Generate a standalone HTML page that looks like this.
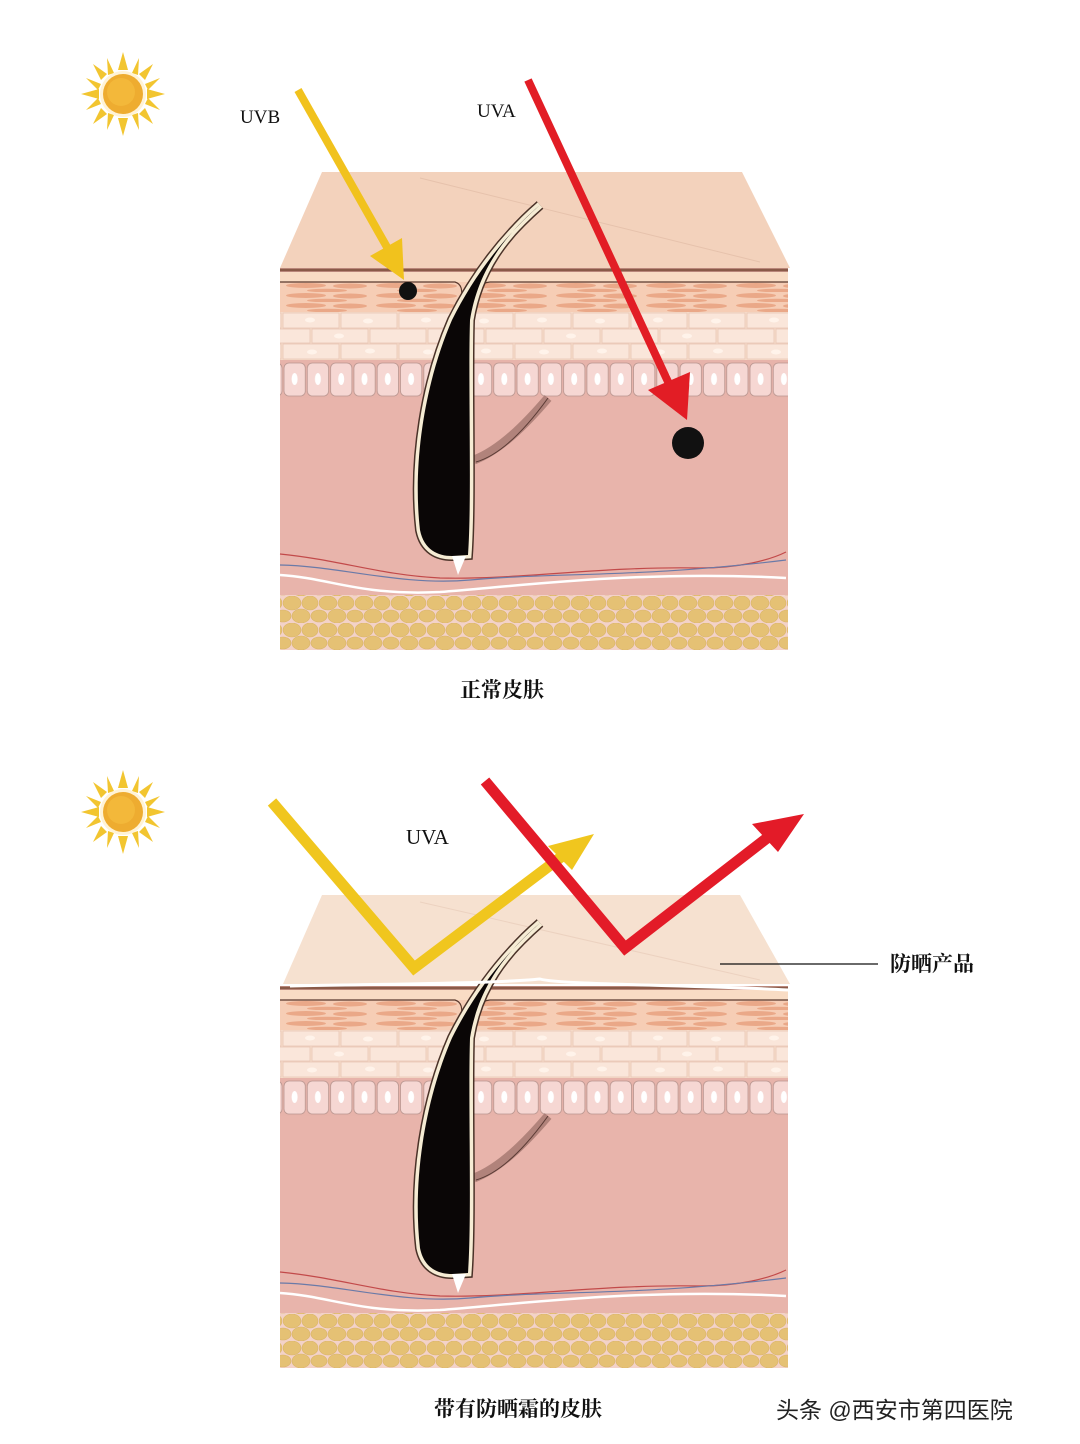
<!DOCTYPE html>
<html><head><meta charset="utf-8"><style>
html,body{margin:0;padding:0;background:#fff;}
svg{display:block;}
</style></head><body>
<svg width="1080" height="1444" viewBox="0 0 1080 1444" xmlns="http://www.w3.org/2000/svg">
<defs>
<pattern id="fat" x="283" y="596" width="36" height="27" patternUnits="userSpaceOnUse">
<rect width="36" height="27" fill="#f3d2c8"/>
<ellipse cx="9" cy="7" rx="9" ry="7" fill="#e5c174" stroke="#d9b468" stroke-width="0.6"/>
<ellipse cx="27" cy="7" rx="8" ry="7" fill="#e5c174" stroke="#d9b468" stroke-width="0.6"/>
<ellipse cx="18" cy="20" rx="9" ry="7" fill="#e5c174" stroke="#d9b468" stroke-width="0.6"/>
<ellipse cx="0" cy="20" rx="8" ry="6" fill="#e5c174" stroke="#d9b468" stroke-width="0.6"/>
<ellipse cx="36" cy="20" rx="8" ry="6" fill="#e5c174" stroke="#d9b468" stroke-width="0.6"/>
</pattern>
<pattern id="cells" x="282" y="312" width="116" height="48" patternUnits="userSpaceOnUse">
<rect width="116" height="48" fill="#f7ddcc"/>
<g fill="#fae6da" stroke="#e9c6b5" stroke-width="0.8">
<rect x="1" y="1" width="56" height="15"/><rect x="59" y="1" width="56" height="15"/>
<rect x="-28" y="17" width="56" height="14"/><rect x="30" y="17" width="56" height="14"/><rect x="88" y="17" width="56" height="14"/>
<rect x="1" y="32" width="56" height="15"/><rect x="59" y="32" width="56" height="15"/>
</g>
<g fill="#fff3ea"><ellipse cx="28" cy="8" rx="5" ry="2.5"/><ellipse cx="86" cy="9" rx="5" ry="2.5"/><ellipse cx="57" cy="24" rx="5" ry="2.5"/><ellipse cx="30" cy="40" rx="5" ry="2.5"/><ellipse cx="88" cy="39" rx="5" ry="2.5"/></g>
</pattern>
<pattern id="basal" x="283" y="360" width="23.3" height="40" patternUnits="userSpaceOnUse">
<rect width="23.3" height="40" fill="#e7b3aa"/>
<rect x="1" y="3" width="21.3" height="33" rx="5" fill="#f6d7d3" stroke="#b99690" stroke-width="0.8"/>
<ellipse cx="11.6" cy="19" rx="3" ry="6" fill="#fff"/>
</pattern>
<pattern id="stripes" x="282" y="282" width="90" height="10" patternUnits="userSpaceOnUse">
<rect width="90" height="10" fill="#f6cdb5"/>
<ellipse cx="24" cy="3.5" rx="20" ry="2.5" fill="#eaa888"/>
<ellipse cx="68" cy="4" rx="17" ry="2.5" fill="#eaa888"/>
<ellipse cx="45" cy="8.5" rx="20" ry="1.8" fill="#eaa888"/>
</pattern>
<path id="hairp" d="M540,205 C500,240 472,280 452,320 C426,380 412,460 420,530 C424,550 438,556 452,556 L468,555 C472,500 468,380 470,320 C478,270 505,235 540,205 Z"/>
<g id="skin">
<rect x="280" y="268" width="508" height="382" fill="#e8b4ab"/>
<rect x="280" y="272" width="508" height="10" fill="#f9dcc4"/>
<rect x="280" y="282" width="508" height="30" fill="url(#stripes)"/>
<rect x="280" y="312" width="508" height="48" fill="url(#cells)"/>
<rect x="280" y="360" width="508" height="38" fill="url(#basal)"/>
<rect x="280" y="595" width="508" height="55" fill="url(#fat)"/>
<line x1="280" y1="270" x2="788" y2="270" stroke="#8a5a48" stroke-width="3"/>
<path d="M280,282 L455,282 C462,284 462,290 462,300 M474,300 C476,290 478,283 490,282 L788,282" stroke="#5a3a2e" stroke-width="1.2" fill="none"/>
<path d="M280,554 C340,560 380,575 440,578 C520,580 600,566 700,568 C740,568 770,560 786,552" stroke="#c24a4a" fill="none" stroke-width="1.2"/>
<path d="M280,565 C340,566 400,586 470,580 C560,572 640,578 786,560" stroke="#6a7aa8" fill="none" stroke-width="1.2"/>
<path d="M280,575 C330,578 360,596 440,592 C520,586 640,570 786,578" stroke="#fff" fill="none" stroke-width="2.5"/>
<path d="M548,398 C525,425 500,450 474,460" stroke="#9a6e66" fill="none" stroke-width="9" opacity="0.7"/>
<path d="M548,398 C525,430 500,455 476,462" stroke="#5a3a34" fill="none" stroke-width="1"/>
<use href="#hairp" fill="none" stroke="#4a3228" stroke-width="10"/>
<use href="#hairp" fill="none" stroke="#f6ecd4" stroke-width="7"/>
<use href="#hairp" fill="#0a0606"/>
<path d="M452,556 L458,575 L466,556 Z" fill="#fff"/>
</g>
<g id="sun">
<g fill="#f2c530">
<polygon points="123,52 128,70 118,70"/><polygon points="123,136 128,118 118,118"/>
<polygon points="81,94 99,89 99,99"/><polygon points="165,94 147,89 147,99"/>
<polygon points="93,64 107,74 101,80"/><polygon points="153,64 139,74 145,80"/>
<polygon points="93,124 107,114 101,108"/><polygon points="153,124 139,114 145,108"/>
<polygon points="107,58 114,73 108,75"/><polygon points="139,58 132,73 138,75"/>
<polygon points="107,130 114,115 108,113"/><polygon points="139,130 132,115 138,113"/>
<polygon points="86,78 101,84 98,90"/><polygon points="160,78 145,84 148,90"/>
<polygon points="86,110 101,104 98,98"/><polygon points="160,110 145,104 148,98"/>
</g>
<circle cx="123" cy="94" r="23" fill="#fff3d6"/>
<circle cx="123" cy="94" r="20" fill="#eeac30"/>
<circle cx="121" cy="92" r="14" fill="#f3b83a"/>
</g>
</defs>

<!-- TOP -->
<use href="#sun"/>
<polygon points="280,268 322,172 742,172 790,268" fill="#f3d2bc"/>
<path d="M420,178 L760,262" stroke="#e6c2ac" stroke-width="1"/>
<use href="#skin"/>
<text x="240" y="123" font-family="Liberation Serif, serif" font-size="19" fill="#111">UVB</text>
<text x="477" y="117" font-family="Liberation Serif, serif" font-size="19" fill="#111">UVA</text>
<line x1="298" y1="90" x2="392" y2="256" stroke="#f1c21d" stroke-width="8"/>
<polygon points="370,256 404,280 402,238" fill="#f1c21d"/>
<line x1="528" y1="80" x2="670" y2="386" stroke="#e21d25" stroke-width="8"/>
<polygon points="648,390 687,420 690,372" fill="#e21d25"/>
<circle cx="408" cy="291" r="9" fill="#111"/>
<circle cx="688" cy="443" r="16" fill="#111"/>
<text x="502" y="697" text-anchor="middle" font-family="Liberation Serif, 'Noto Serif CJK SC', serif" font-weight="bold" font-size="21" fill="#111">正常皮肤</text>

<!-- BOTTOM -->
<g transform="translate(0,718)"><use href="#sun"/></g>
<polygon points="283,984 322,895 740,895 790,984" fill="#f6e1d0"/>
<path d="M420,902 L760,980" stroke="#ecd2c0" stroke-width="1"/>
<g transform="translate(0,718)"><use href="#skin"/></g>
<path d="M290,986 C400,984 500,983 540,979 C560,985 700,985 788,990" stroke="#fff" stroke-width="3" fill="none"/>
<polyline points="272,802 414,968 573,848" stroke="#f0c61e" stroke-width="11" fill="none"/>
<polygon points="594,834 548,846 572,870" fill="#f0c61e"/>
<polyline points="485,781 625,948 780,828" stroke="#e31b28" stroke-width="11" fill="none"/>
<polygon points="804,814 752,824 778,852" fill="#e31b28"/>
<text x="406" y="844" font-family="Liberation Serif, serif" font-size="21" fill="#111">UVA</text>
<line x1="720" y1="964" x2="878" y2="964" stroke="#111" stroke-width="1.2"/>
<text x="890" y="971" font-family="Liberation Serif, 'Noto Serif CJK SC', serif" font-weight="bold" font-size="21" fill="#111">防晒产品</text>
<text x="518" y="1416" text-anchor="middle" font-family="Liberation Serif, 'Noto Serif CJK SC', serif" font-weight="bold" font-size="21" fill="#111">带有防晒霜的皮肤</text>
<text x="776" y="1418" font-family="Liberation Sans, 'Noto Sans CJK SC', sans-serif" font-size="23" fill="#222">头条 @西安市第四医院</text>
</svg>
</body></html>
